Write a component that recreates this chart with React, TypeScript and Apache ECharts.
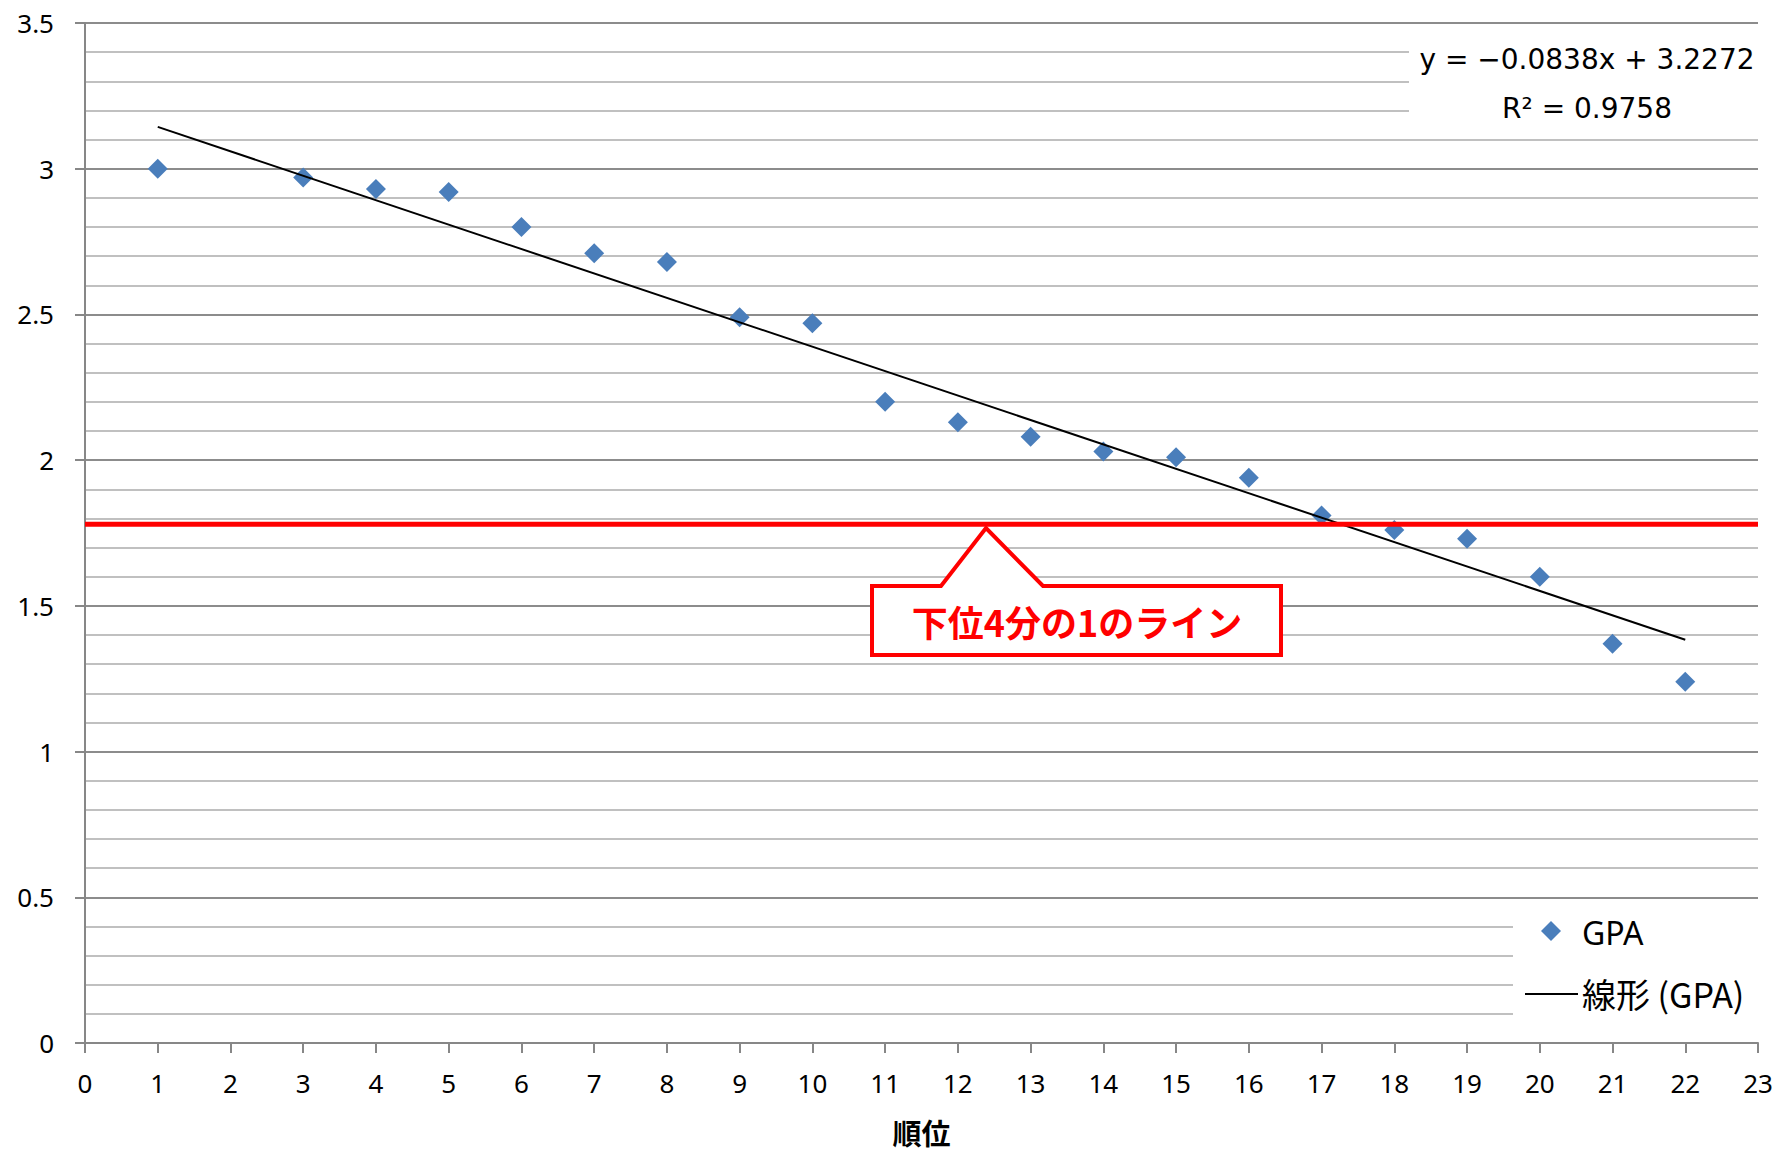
import React, { useEffect, useRef } from "react";
import * as echarts from "echarts";

// ---- data ----
const ranks = [1, 3, 4, 5, 6, 7, 8, 9, 10, 11, 12, 13, 14, 15, 16, 17, 18, 19, 20, 21, 22];
const gpa = [3.0, 2.97, 2.93, 2.92, 2.8, 2.71, 2.68, 2.49, 2.47, 2.2, 2.13, 2.08, 2.03, 2.01, 1.94, 1.81, 1.76, 1.73, 1.6, 1.37, 1.24];
const trendSlope = -0.0838;
const trendIntercept = 3.2272;
const trendRange = [1, 22];
const quartileValue = 1.78;
const xRange = [0, 23];
const yRange = [0, 3.5];
const equationText = "y = \u22120.0838x + 3.2272";
const r2Text = "R\u00b2 = 0.9758";
const calloutText = "下位4分の1のライン";
const xAxisName = "順位";
const seriesName = "GPA";
const trendName = "線形 (GPA)";

const BLUE = "#4a7ebb";
const RED = "#ff0000";
const LABEL_FONT = "'Noto Sans', 'Noto Sans CJK JP', sans-serif";
const CJK_FONT = "'Noto Sans CJK JP', 'Noto Sans', sans-serif";

export default function App() {
  const ref = useRef<HTMLDivElement>(null);

  useEffect(() => {
    if (!ref.current) return;
    const chart = echarts.init(ref.current, undefined, { renderer: "svg" });

    const scatterData = ranks.map((r, i) => [r, gpa[i]]);
    const trendData = trendRange.map((x) => [x, trendSlope * x + trendIntercept]);
    const quartileData = xRange.map((x) => [x, quartileValue]);

    chart.setOption({
      animation: false,
      backgroundColor: "#ffffff",
      grid: { left: 85, right: 18, top: 23, bottom: 109, outerBoundsMode: "none" },
      xAxis: {
        type: "value",
        min: xRange[0],
        max: xRange[1],
        interval: 1,
        name: xAxisName,
        nameLocation: "middle",
        nameGap: 74,
        nameTextStyle: { fontSize: 29, fontWeight: "bold", color: "#000", fontFamily: CJK_FONT },
        axisLine: { show: true, onZero: false, lineStyle: { color: "#878787", width: 2 } },
        axisTick: { show: true, inside: false, length: 10, lineStyle: { color: "#878787", width: 2 } },
        axisLabel: { margin: 27, fontSize: 26, color: "#000", fontFamily: LABEL_FONT },
        splitLine: { show: false },
      },
      yAxis: {
        type: "value",
        min: yRange[0],
        max: yRange[1],
        interval: 0.5,
        axisLine: { show: true, onZero: false, lineStyle: { color: "#878787", width: 2 } },
        axisTick: { show: true, inside: false, length: 10, lineStyle: { color: "#878787", width: 2 } },
        axisLabel: { margin: 31, fontSize: 26, color: "#000", fontFamily: LABEL_FONT },
        splitLine: { show: true, lineStyle: { color: "#8c8c8c", width: 2 } },
        minorTick: { show: false, splitNumber: 5 },
        minorSplitLine: { show: true, lineStyle: { color: "#c0c0c0", width: 2 } },
      },
      series: [
        {
          name: seriesName,
          type: "scatter",
          data: scatterData,
          symbol: "diamond",
          symbolSize: 20,
          itemStyle: { color: BLUE, opacity: 1 },
          z: 2,
        },
        {
          name: trendName,
          type: "line",
          data: trendData,
          showSymbol: false,
          symbol: "none",
          lineStyle: { color: "#000", width: 2 },
          z: 3,
        },
        {
          name: "quartile",
          type: "line",
          data: quartileData,
          showSymbol: false,
          symbol: "none",
          lineStyle: { color: RED, width: 5 },
          z: 4,
        },
      ],
      graphic: [
        // equation box
        {
          type: "rect",
          z: 10,
          shape: { x: 1409, y: 31, width: 349, height: 101 },
          style: { fill: "#ffffff" },
        },
        {
          type: "text",
          z: 11,
          x: 1587,
          y: 59,
          style: {
            text: equationText,
            fill: "#000",
            font: "28px 'DejaVu Sans', sans-serif",
            align: "center",
            verticalAlign: "middle",
          },
        },
        {
          type: "text",
          z: 11,
          x: 1587,
          y: 108,
          style: {
            text: r2Text,
            fill: "#000",
            font: "28px 'DejaVu Sans', sans-serif",
            align: "center",
            verticalAlign: "middle",
          },
        },
        // legend box
        {
          type: "rect",
          z: 10,
          shape: { x: 1513, y: 906, width: 245, height: 132 },
          style: { fill: "#ffffff" },
        },
        {
          type: "polygon",
          z: 11,
          shape: { points: [[1551, 921], [1561, 931], [1551, 941], [1541, 931]] },
          style: { fill: BLUE },
        },
        {
          type: "text",
          z: 11,
          x: 1582,
          y: 932,
          style: { text: seriesName, fill: "#000", font: `32px ${LABEL_FONT}`, align: "left", verticalAlign: "middle" },
        },
        {
          type: "line",
          z: 11,
          shape: { x1: 1525, y1: 994, x2: 1578, y2: 994 },
          style: { stroke: "#000", lineWidth: 2 },
        },
        {
          type: "text",
          z: 11,
          x: 1582,
          y: 993,
          style: { text: trendName, fill: "#000", font: `34px ${CJK_FONT}`, align: "left", verticalAlign: "middle" },
        },
        // callout
        {
          type: "polygon",
          z: 12,
          shape: {
            points: [
              [872, 586],
              [941, 586],
              [986, 528],
              [1043, 586],
              [1281, 586],
              [1281, 655],
              [872, 655],
            ],
          },
          style: { fill: "#ffffff", stroke: RED, lineWidth: 4, lineJoin: "miter" },
        },
        {
          type: "text",
          z: 13,
          x: 1077,
          y: 621,
          style: {
            text: calloutText,
            fill: RED,
            font: `bold 36px ${CJK_FONT}`,
            align: "center",
            verticalAlign: "middle",
          },
        },
      ],
    });

    return () => chart.dispose();
  }, []);

  return (
    <div
      ref={ref}
      style={{ position: "fixed", left: 0, top: 0, width: 1776, height: 1152, background: "#fff" }}
    />
  );
}
